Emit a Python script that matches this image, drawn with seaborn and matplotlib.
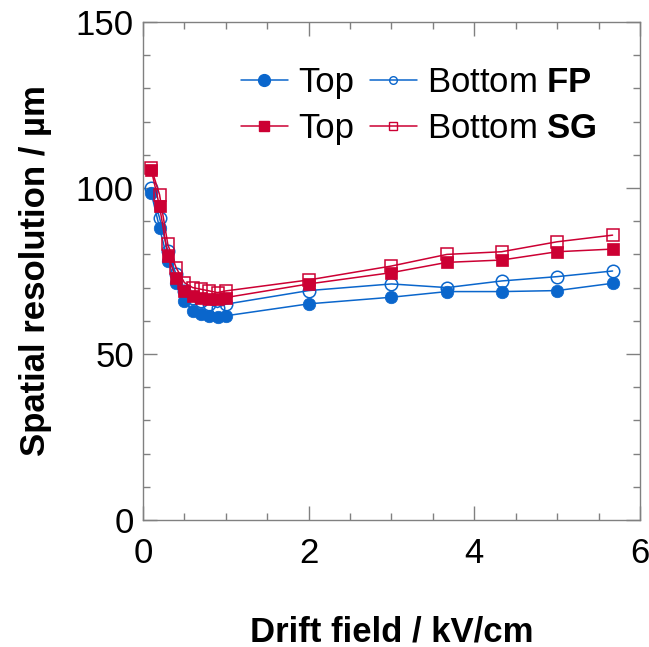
import numpy as np
import pandas as pd
import matplotlib
matplotlib.use("Agg")
import matplotlib.pyplot as plt
import seaborn as sns
from matplotlib.ticker import MultipleLocator
from matplotlib.lines import Line2D

# ---- data ----
field = [0.1, 0.2, 0.3, 0.4, 0.5, 0.6, 0.7, 0.8, 0.9, 1.0, 2.0, 3.0, 3.67, 4.33, 5.0, 5.67]
top_fp = [98.5, 88.0, 78.0, 71.5, 66.0, 63.0, 62.0, 61.5, 61.0, 61.5, 65.1, 67.1, 68.8, 68.8, 69.1, 71.3]
bottom_fp = [100.0, 91.0, 81.0, 74.0, 69.0, 67.0, 66.0, 65.0, 64.0, 65.0, 69.1, 71.1, 70.0, 72.0, 73.3, 75.0]
top_sg = [105.5, 94.5, 79.5, 73.0, 69.0, 67.5, 67.0, 66.5, 66.5, 67.0, 71.1, 74.5, 77.6, 78.3, 80.8, 81.6]
bottom_sg = [106.0, 98.0, 83.0, 76.0, 71.5, 70.0, 69.5, 69.0, 68.5, 69.0, 72.3, 76.5, 80.0, 80.8, 83.8, 85.8]

x_ticks = [0, 2, 4, 6]
y_ticks = [0, 50, 100, 150]
legend_labels = ["Top", "Top", "Bottom $\\mathbf{FP}$", "Bottom $\\mathbf{SG}$"]

BLUE = "#0a66cc"
RED = "#cc0033"

sns.set_theme(style="ticks")
plt.rcParams["font.family"] = ["Liberation Sans", "DejaVu Sans"]
plt.rcParams["mathtext.fontset"] = "custom"
plt.rcParams["mathtext.rm"] = "Liberation Sans"
plt.rcParams["mathtext.bf"] = "Liberation Sans:bold"
plt.rcParams["text.color"] = "black"
plt.rcParams["axes.labelcolor"] = "black"

FS = 25

fig = plt.figure(figsize=(6.49, 6.47), dpi=100)
ax = fig.add_axes([0.2203, 0.1963, 0.7657, 0.7697])

series = [
    (top_fp, BLUE, "o", True),
    (bottom_fp, BLUE, "o", False),
    (top_sg, RED, "s", True),
    (bottom_sg, RED, "s", False),
]

for vals, col, mk, filled in series:
    df = pd.DataFrame({"field": field, "res": vals})
    sns.lineplot(data=df, x="field", y="res", ax=ax, color=col, lw=1.1,
                 marker=mk, markersize=9 if mk == "o" else 8.5,
                 markerfacecolor=col if filled else "none",
                 markeredgecolor=col, markeredgewidth=0.5 if filled else 1.1,
                 legend=False, errorbar=None)


def h(col, mk, filled):
    if filled:
        ms = 8.5 if mk == "o" else 7.5
    else:
        ms = 5.5
    return Line2D([], [], color=col, lw=1.1, marker=mk, markersize=ms,
                  markerfacecolor=col if filled else "none", markeredgecolor=col,
                  markeredgewidth=1.0)


leg_handles = [h(BLUE, "o", True), h(RED, "s", True), h(BLUE, "o", False), h(RED, "s", False)]
ax.legend(leg_handles, legend_labels, ncol=2, frameon=False, fontsize=FS,
          loc="upper right", bbox_to_anchor=(0.962, 0.96),
          handlelength=1.35, handletextpad=0.3, columnspacing=0.45,
          labelspacing=0.38, borderpad=0.2)

ax.set_xlim(0, 6)
ax.set_ylim(0, 150)
ax.set_xticks(x_ticks)
ax.set_yticks(y_ticks)
ax.xaxis.set_minor_locator(MultipleLocator(0.5))
ax.yaxis.set_minor_locator(MultipleLocator(10))
ax.tick_params(which="both", direction="in", top=True, right=True, color="#808080",
               labelsize=FS, labelcolor="black", width=1.0)
ax.tick_params(which="major", length=10)
ax.tick_params(which="minor", length=5)
ax.tick_params(axis="x", which="major", pad=12)
ax.tick_params(axis="y", which="major", pad=6.5)
for s in ax.spines.values():
    s.set_color("#808080")
    s.set_linewidth(1.0)

ax.set_xlabel("Drift field / kV/cm", fontsize=FS, fontweight="bold", labelpad=33)
ax.set_ylabel("Spatial resolution / \u00b5m", fontsize=FS, fontweight="bold", labelpad=17)

fig.savefig("out.png", dpi=100, facecolor="white")
